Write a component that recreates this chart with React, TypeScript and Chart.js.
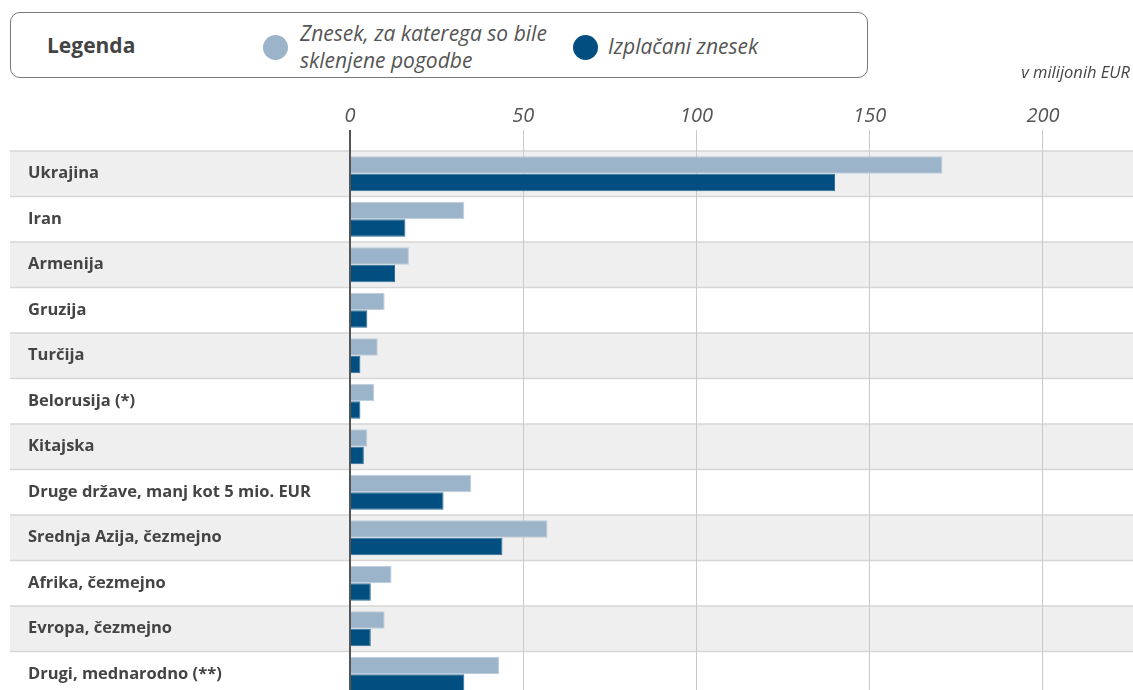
import React, { useEffect, useRef } from "react";
import { Chart, registerables } from "chart.js";

Chart.register(...registerables);

const categories = [
  "Ukrajina",
  "Iran",
  "Armenija",
  "Gruzija",
  "Turčija",
  "Belorusija (*)",
  "Kitajska",
  "Druge države, manj kot 5 mio. EUR",
  "Srednja Azija, čezmejno",
  "Afrika, čezmejno",
  "Evropa, čezmejno",
  "Drugi, mednarodno (**)",
];
const contracted = [171, 33, 17, 10, 8, 7, 5, 35, 57, 12, 10, 43];
const disbursed = [140, 16, 13, 5, 3, 3, 4, 27, 44, 6, 6, 33];
const tickValues = [0, 50, 100, 150, 200];

const seriesNames = ["Znesek, za katerega so bile sklenjene pogodbe", "Izplačani znesek"];
const LIGHT = "#9bb4c9";
const DARK = "#014f81";
const FONT = "'Open Sans', 'Noto Sans', sans-serif";

const bandsPlugin = {
  id: "bands",
  beforeDraw(chart: any) {
    const { ctx, chartArea, scales } = chart;
    const y = scales.y;
    const n = categories.length;
    const step = (chartArea.bottom - chartArea.top) / n;
    ctx.save();
    for (let i = 0; i < n; i++) {
      const c = y.getPixelForValue(i);
      const top = c - step / 2;
      if (i % 2 === 0) {
        ctx.fillStyle = "#efefef";
        ctx.fillRect(10, top, chartArea.right - 10, step);
      }
    }
    ctx.strokeStyle = "#d6d6d6";
    ctx.lineWidth = 1.5;
    for (let i = 0; i <= n; i++) {
      const yy = y.getPixelForValue(i) - step / 2;
      ctx.beginPath();
      ctx.moveTo(10, yy);
      ctx.lineTo(chartArea.right, yy);
      ctx.stroke();
    }
    ctx.restore();
  },
};

export default function App() {
  const ref = useRef<HTMLCanvasElement>(null);
  useEffect(() => {
    document.documentElement.style.overflow = "hidden";
    document.body.style.overflow = "hidden";
    if (!ref.current) return;
    const chart = new Chart(ref.current, {
      type: "bar",
      data: {
        labels: categories,
        datasets: [
          {
            label: seriesNames[0],
            data: contracted,
            backgroundColor: LIGHT,
            borderColor: "#bccddb",
            borderWidth: 1,
            borderSkipped: "start",
            categoryPercentage: 0.77,
            barPercentage: 1,
          },
          {
            label: seriesNames[1],
            data: disbursed,
            backgroundColor: DARK,
            borderColor: "#2f6e98",
            borderWidth: 1,
            borderSkipped: "start",
            categoryPercentage: 0.77,
            barPercentage: 1,
          },
        ],
      },
      options: {
        indexAxis: "y",
        responsive: false,
        maintainAspectRatio: false,
        animation: false,
        layout: { padding: { left: 28, right: 0, top: 0, bottom: 3 } },
        plugins: { legend: { display: false }, tooltip: { enabled: false } },
        scales: {
          x: {
            position: "top",
            min: 0,
            max: 226,
            afterFit(scale: any) {
              scale.height = 151;
              scale.paddingLeft = 0;
              scale.paddingRight = 0;
            },
            afterBuildTicks(scale: any) {
              scale.ticks = tickValues.map((v) => ({ value: v }));
            },
            border: { display: false },
            grid: {
              color: (c: any) => (c.tick && c.tick.value === 0 ? "#555555" : "#c9c9c9"),
              lineWidth: (c: any) => (c.tick && c.tick.value === 0 ? 2 : 1),
              tickLength: 21,
              drawTicks: true,
            },
            ticks: {
              padding: 2,
              color: "#555555",
              font: { family: FONT, size: 20, style: "italic" },
            },
          },
          y: {
            afterFit(scale: any) {
              scale.width = 322;
              scale.paddingTop = 0;
              scale.paddingBottom = 0;
            },
            border: { display: false },
            grid: { display: false },
            ticks: {
              crossAlign: "far",
              color: "#444444",
              font: { family: FONT, size: 16.5, weight: "bold" },
            },
          },
        },
      },
      plugins: [bandsPlugin],
    });
    return () => chart.destroy();
  }, []);

  return (
    <div
      style={{
        position: "absolute",
        left: 0,
        top: 0,
        width: 1133,
        height: 700,
        overflow: "hidden",
        background: "#fff",
        fontFamily: FONT,
      }}
    >
      <canvas ref={ref} width={1133} height={700} style={{ position: "absolute", left: 0, top: 0 }} />
      <div
        style={{
          position: "absolute",
          left: 10,
          top: 12,
          width: 856,
          height: 64,
          border: "1px solid #777",
          borderRadius: 10,
          background: "#fff",
        }}
      >
        <div style={{ position: "absolute", left: 36, top: 18, fontSize: 21, fontWeight: 700, color: "#444" }}>Legenda</div>
        <div style={{ position: "absolute", left: 252, top: 22, width: 25, height: 25, borderRadius: 13, background: LIGHT }} />
        <div
          style={{
            position: "absolute",
            left: 289,
            top: 7,
            fontSize: 21,
            fontStyle: "italic",
            color: "#555",
            lineHeight: "27px",
            whiteSpace: "nowrap",
          }}
        >
          Znesek, za katerega so bile
          <br />
          sklenjene pogodbe
        </div>
        <div style={{ position: "absolute", left: 562, top: 22, width: 25, height: 25, borderRadius: 13, background: DARK }} />
        <div
          style={{
            position: "absolute",
            left: 597,
            top: 19,
            fontSize: 21,
            fontStyle: "italic",
            color: "#555",
            whiteSpace: "nowrap",
          }}
        >
          Izplačani znesek
        </div>
      </div>
      <div
        style={{
          position: "absolute",
          right: 3,
          top: 60,
          fontSize: 16.5,
          fontStyle: "italic",
          color: "#444",
          whiteSpace: "nowrap",
        }}
      >
        v milijonih EUR
      </div>
    </div>
  );
}
